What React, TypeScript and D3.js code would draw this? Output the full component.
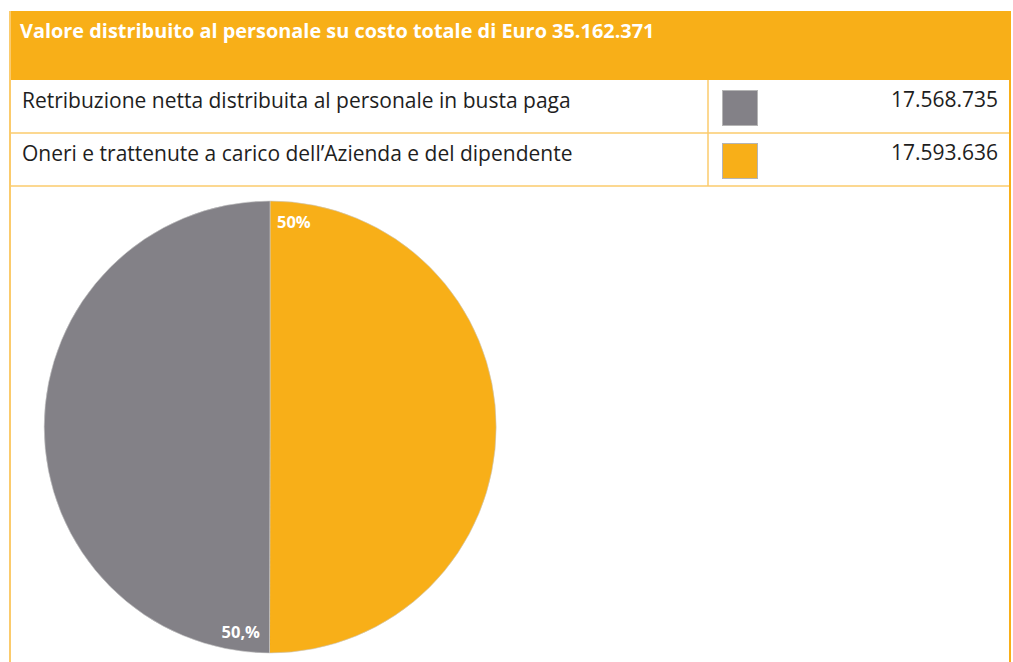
import React from "react";
import * as d3 from "d3";

const title = "Valore distribuito al personale su costo totale di Euro 35.162.371";
const categories = [
  "Retribuzione netta distribuita al personale in busta paga",
  "Oneri e trattenute a carico dell’Azienda e del dipendente",
];
const values = [17568735, 17593636];
const valueLabels = ["17.568.735", "17.593.636"];
const pctLabels = ["50,%", "50%"];
const colors = ["#838187", "#F8AF18"];

const W = 1013;
const H = 662;
const FONT = "'Open Sans', 'Noto Sans', sans-serif";

export default function App() {
  const left = 10;
  const right = 1010;
  const colX = 708;
  const headerTop = 11;
  const headerBottom = 80;
  const rowH = 53;
  const border = "#FBCB6C";

  const cx = 270;
  const cy = 427;
  const r = 226;

  const order = [1, 0];
  const pie = d3
    .pie<number>()
    .sort(null)
    .value((i) => values[i]);
  const arcs = pie(order);
  const arcGen = d3.arc<d3.PieArcDatum<number>>().innerRadius(0).outerRadius(r);

  const rowY = (i: number) => headerBottom + i * rowH;

  return (
    <svg
      width={W}
      height={H}
      style={{ position: "absolute", left: 0, top: 0, background: "#fff" }}
      fontFamily={FONT}
    >
      <rect x={0} y={0} width={W} height={H} fill="#fff" />
      <rect x={left} y={headerTop} width={right - left} height={headerBottom - headerTop} fill="#F8AF18" />
      <text x={20} y={38} fill="#fff" fontWeight={700} fontSize={19.9}>
        {title}
      </text>
      {categories.map((c, i) => (
        <g key={c}>
          <text x={22} y={rowY(i) + 28} fontSize={21} fill="#1e1e1e">
            {c}
          </text>
          <rect
            x={722.5}
            y={rowY(i) + 10.5}
            width={35}
            height={35}
            fill={colors[i]}
            stroke="#B5B5B5"
            strokeWidth={1}
          />
          <text x={998} y={rowY(i) + 27} fontSize={21} fill="#1e1e1e" textAnchor="end">
            {valueLabels[i]}
          </text>
          <line x1={left} x2={right} y1={rowY(i + 1)} y2={rowY(i + 1)} stroke={border} strokeWidth={1.5} />
        </g>
      ))}
      <line x1={colX} x2={colX} y1={headerBottom} y2={rowY(2)} stroke={border} strokeWidth={1.5} />
      <line x1={left} x2={left} y1={headerTop} y2={H} stroke={border} strokeWidth={2} />
      <line x1={right} x2={right} y1={headerTop} y2={H} stroke="#F8AF18" strokeWidth={2} />
      <g transform={`translate(${cx},${cy})`}>
        {arcs.map((a) => (
          <path key={a.data} d={arcGen(a) || ""} fill={colors[a.data]} stroke="#C9C9C9" strokeWidth={0.6} />
        ))}
      </g>
      <text x={cx + 7} y={228} fill="#fff" fontWeight={700} fontSize={16.5}>
        {pctLabels[1]}
      </text>
      <text x={cx - 10} y={638} fill="#fff" fontWeight={700} fontSize={16.5} textAnchor="end">
        {pctLabels[0]}
      </text>
    </svg>
  );
}
